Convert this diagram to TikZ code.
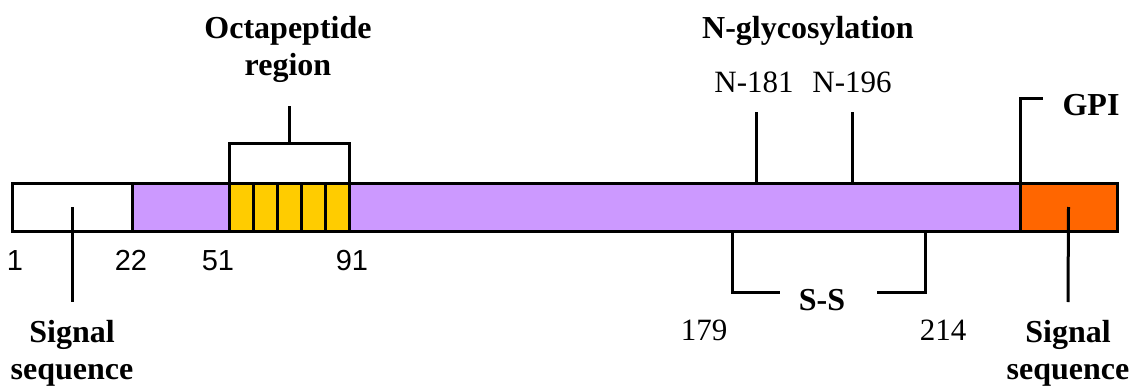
\documentclass[tikz,border=0pt]{standalone}
\usepackage{fontspec}
\setmainfont{Liberation Serif}
\newfontfamily\numfont{Liberation Sans}
\usepackage{tikz}
\usetikzlibrary{positioning, calc}
\definecolor{proColor}{RGB}{204, 153, 255}
\definecolor{octaColor}{RGB}{255, 204, 0}
\definecolor{gpiColor}{RGB}{255, 102, 0}

\begin{document}
\begin{tikzpicture}[
    x=1pt, y=-1pt,
    seg/.style={rectangle, draw, line width=3pt, minimum height=48pt, inner sep=0pt, outer sep=0pt},
    tick/.style={line width=3pt},
    title/.style={font=\fontsize{32}{37}\selectfont\bfseries, align=center, inner sep=0pt},
    site/.style={font=\fontsize{31}{36}\selectfont, inner sep=0pt},
    resnum/.style={font=\numfont\fontsize{29}{34}\selectfont, inner sep=0pt}
]
    \useasboundingbox (0,0) rectangle (1133,388);

    % Protein bar
    \node[seg, fill=white, minimum width=120pt, anchor=west] (sig1) at (12,207) {};
    \node[seg, fill=proColor, minimum width=97pt, right=0pt of sig1] (pro1) {};
    \node[seg, fill=octaColor, minimum width=24pt, right=0pt of pro1] (oct1) {};
    \foreach \i in {2,...,5} {
        \pgfmathtruncatemacro\j{\i-1}
        \node[seg, fill=octaColor, minimum width=24pt, right=0pt of oct\j] (oct\i) {};
    }
    \node[seg, fill=proColor, minimum width=671pt, right=0pt of oct5] (pro2) {};
    \node[seg, fill=gpiColor, minimum width=97pt, right=0pt of pro2] (sig2) {};

    % Residue numbers
    \node[resnum, anchor=base] (r1) at (15,270) {1};
    \node[resnum, anchor=base] (r22) at (131,270) {22};
    \node[resnum, anchor=base] (r51) at (218,270) {51};
    \node[resnum, anchor=base] (r91) at (352,270) {91};

    % Signal sequences
    \node[title, anchor=base] (sig1lbl) at (72,379) {Signal\\sequence};
    \node[title, anchor=base] (sig2lbl) at (1068,379) {Signal\\sequence};
    \coordinate (sig1end) at (72,302);
    \coordinate (sig2end) at (1068,302);
    \draw[tick] (sig1.center) -- (sig1end);
    \draw[tick] (sig2.center) -- (sig2end);

    % Octapeptide region
    \node[title, anchor=base] (octlbl) at (288,75) {Octapeptide\\region};
    \coordinate (octmid) at ($(oct1.north west)!0.5!(oct5.north east)+(0,-40)$);
    \draw[tick] (oct1.north west) |- (octmid) -| (oct5.north east);
    \draw[tick] (octmid) -- ++(0,-37);

    % N-glycosylation
    \node[title, anchor=base] (glylbl) at (808,38) {N-glycosylation};
    \node[site, anchor=base] (n181lbl) at (754,92) {N-181};
    \node[site, anchor=base] (n196lbl) at (852,92) {N-196};
    \coordinate (n181) at (756,112);
    \coordinate (n196) at (852,112);
    \draw[tick] (n181) -- (n181 |- pro2.north);
    \draw[tick] (n196) -- (n196 |- pro2.north);

    % GPI anchor
    \node[title, anchor=base] (gpilbl) at (1091,115) {GPI};
    \draw[tick] (sig2.north west) -- ++(0,-85) -- ++(23,0);

    % Disulfide bond
    \node[title, anchor=base] (sslbl) at (822,310) {S-S};
    \node[site, anchor=base] (s179) at (704,340) {179};
    \node[site, anchor=base] (s214) at (943,340) {214};
    \coordinate (ss179) at (732,292);
    \coordinate (ss214) at (925,292);
    \draw[tick] (ss179 |- pro2.south) -- (ss179) -- ++(48,0);
    \draw[tick] (ss214 |- pro2.south) -- (ss214) -- ++(-48,0);
\end{tikzpicture}
\end{document}
